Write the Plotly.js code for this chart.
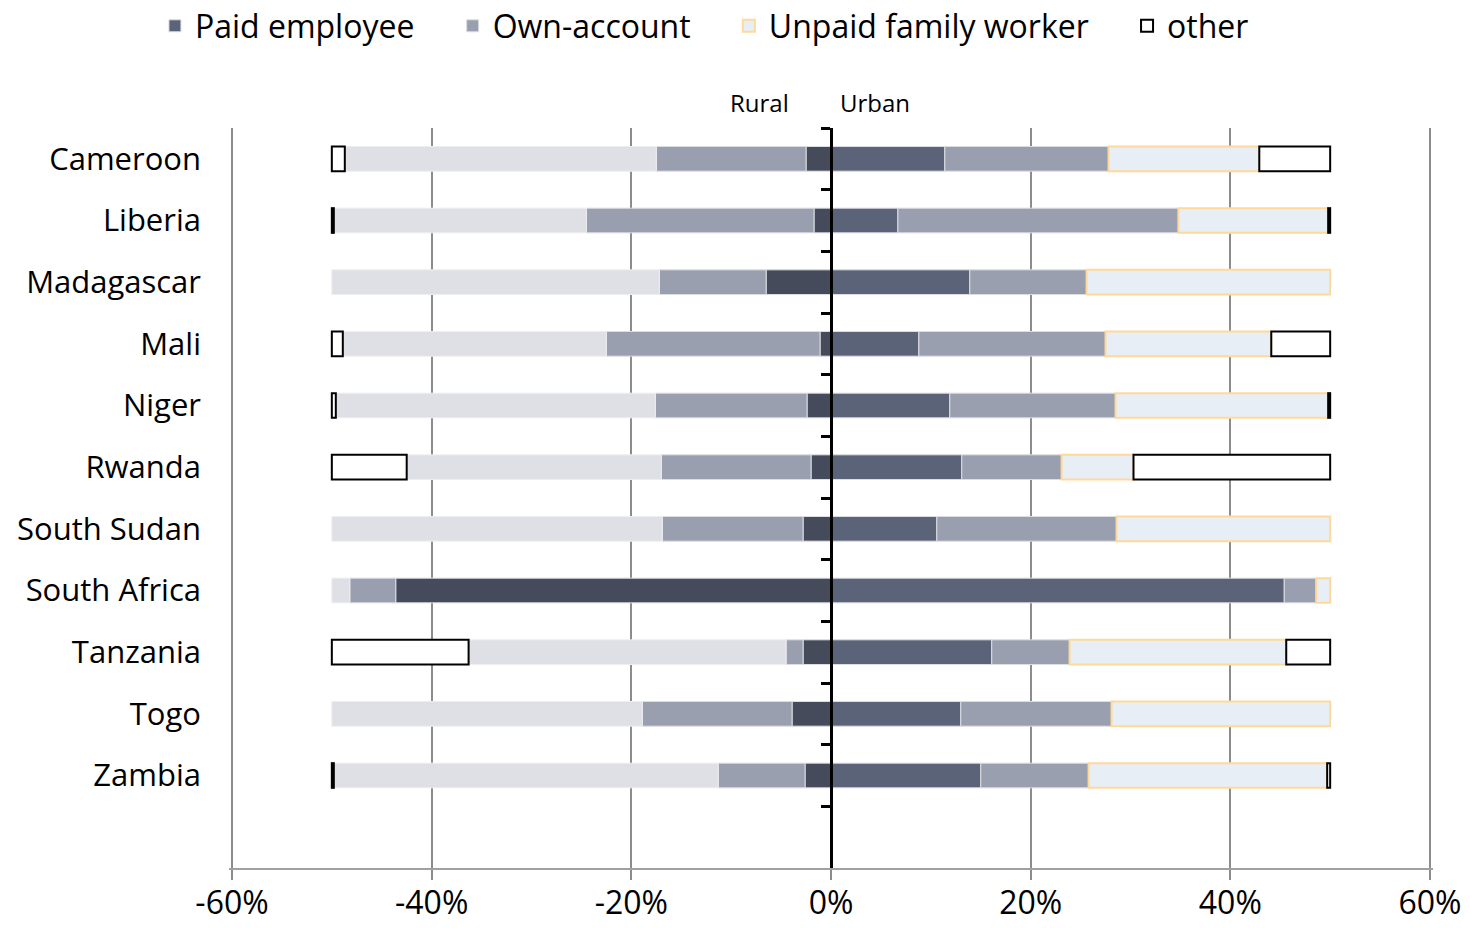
<!DOCTYPE html>
<html>
<head>
<meta charset="utf-8">
<script src="https://cdn.plot.ly/plotly-3.0.1.min.js"></script>
<style>html,body{margin:0;padding:0;background:#fff;}#chart{width:1470px;height:928px;}</style>
</head>
<body>
<div id="chart"></div>
<script>
// Categories (last slot is an empty category, as in the original)
var countries = ["Cameroon","Liberia","Madagascar","Mali","Niger","Rwanda","South Sudan","South Africa","Tanzania","Togo","Zambia"];
var categories = countries.concat([" "]);

// Rural shares (%), drawn to the left
var ruralPaid   = [2.5, 1.7, 6.5, 1.1, 2.4, 2.0, 2.8, 43.6, 2.8, 3.9, 2.6];
var ruralOwn    = [15.0, 22.8, 10.7, 21.4, 15.2, 15.0, 14.1, 4.6, 1.7, 15.0, 8.7];
var ruralUnpaid = [31.2, 25.3, 32.8, 26.4, 32.0, 25.5, 33.1, 1.8, 31.8, 31.1, 38.5];
var ruralOther  = [1.3, 0.2, 0, 1.1, 0.4, 7.5, 0, 0, 13.7, 0, 0.2];

// Urban shares (%), drawn to the right
var urbanPaid   = [11.4, 6.7, 13.9, 8.8, 11.9, 13.1, 10.6, 45.4, 16.1, 13.0, 15.0];
var urbanOwn    = [16.4, 28.1, 11.7, 18.7, 16.6, 10.0, 18.0, 3.2, 7.8, 15.1, 10.8];
var urbanUnpaid = [15.1, 15.0, 24.4, 16.6, 21.3, 7.2, 21.4, 1.4, 21.7, 21.9, 23.9];
var urbanOther  = [7.1, 0.2, 0, 5.9, 0.2, 19.7, 0, 0, 4.4, 0, 0.3];

var seriesNames = ["Paid employee", "Own-account", "Unpaid family worker", "other"];
var xTickVals = [-60, -40, -20, 0, 20, 40, 60];
var xTickText = ["-60%", "-40%", "-20%", "0%", "20%", "40%", "60%"];

var FONT = "'Open Sans', Lato, sans-serif";
var PAD = "\u00a0\u00a0\u00a0\u00a0";

function pos(arr){ return arr.map(function(v){ return v === 0 ? null : v; }); }
function neg(arr){ return arr.map(function(v){ return v === 0 ? null : -v; }); }

var styles = [
  {urban: {color:"#5b6378", line:{color:"#dcdde3", width:1}}, rural: {color:"#454b5a", line:{color:"#dcdde3", width:1}}},
  {urban: {color:"#9a9fb0", line:{color:"#dcdde3", width:1}}, rural: {color:"#9a9fb0", line:{color:"#dcdde3", width:1}}},
  {urban: {color:"#e8eef5", line:{color:"#ffd99a", width:2}}, rural: {color:"#dfe0e5", line:{color:"#eeeef1", width:1}}},
  {urban: {color:"#ffffff", line:{color:"#000000", width:2}}, rural: {color:"#ffffff", line:{color:"#000000", width:2}}}
];

var urbanSeries = [urbanPaid, urbanOwn, urbanUnpaid, urbanOther];
var ruralSeries = [ruralPaid, ruralOwn, ruralUnpaid, ruralOther];

var data = [];
urbanSeries.forEach(function(s, i){
  data.push({type:"bar", orientation:"h", name: seriesNames[i] + (i < 3 ? PAD : ""), legendgroup: seriesNames[i],
    y: countries, x: pos(s), marker: styles[i].urban, showlegend: true,
    hovertemplate: "%{y} Urban: %{x:.1f}%<extra>"+seriesNames[i]+"</extra>"});
});
ruralSeries.forEach(function(s, i){
  data.push({type:"bar", orientation:"h", name: seriesNames[i], legendgroup: seriesNames[i],
    y: countries, x: neg(s), marker: styles[i].rural, showlegend: false,
    hovertemplate: "%{y} Rural: %{customdata:.1f}%<extra>"+seriesNames[i]+"</extra>", customdata: s});
});
// invisible helper so the central category axis (with boundary ticks) is drawn
data.push({type:"scatter", mode:"markers", y: categories, x: categories.map(function(){return null;}),
  yaxis:"y2", showlegend:false, hoverinfo:"skip", marker:{opacity:0}});
// helper trace to draw the bottom axis line and ticks
data.push({type:"scatter", mode:"markers", x:[null], y:[null], xaxis:"x2", showlegend:false, hoverinfo:"skip"});

var layout = {
  width: 1470, height: 928,
  paper_bgcolor: "#ffffff", plot_bgcolor: "#ffffff",
  margin: {l:229, r:37, t:128, b:60},
  barmode: "relative",
  bargap: 0.6,
  font: {family: FONT, color: "#000000", size: 28},
  showlegend: true,
  legend: {orientation:"h", x: 0.1054, xref:"container", y: 0.972, yref:"container", yanchor:"middle", xanchor:"left",
    font:{family: FONT, size: 32, color:"#000"}, traceorder:"normal", itemclick:false, itemdoubleclick:false},
  xaxis: {range:[-60.3, 60.3], tickvals: xTickVals, ticktext: xTickText,
    showgrid: true, gridcolor:"#8c8c8c", gridwidth: 2,
    zeroline: false, showline: false,
    ticks:"", tickfont:{family: FONT, size: 32, color:"#000"}, ticklabelstandoff: 13, fixedrange:true},
  xaxis2: {range:[-60.3, 60.3], tickvals: xTickVals, overlaying:"x", anchor:"y", side:"bottom",
    showgrid:false, zeroline:false, showline:true, linecolor:"#a0a0a0", linewidth:2,
    ticks:"outside", ticklen:10, tickcolor:"#8c8c8c", tickwidth:2, showticklabels:false, fixedrange:true},
  yaxis: {type:"category", categoryarray: categories, categoryorder:"array",
    range:[11.5, -0.5], showgrid:false, zeroline:false, showline:false, ticks:"",
    ticklabelstandoff: 27,
    tickfont:{family: FONT, size: 31, color:"#000"}, fixedrange:true},
  yaxis2: {type:"category", categoryarray: categories, categoryorder:"array",
    overlaying:"y", anchor:"free", position: 0.5, side:"left",
    range:[11.5, -0.5], showgrid:false, zeroline:false,
    showline:true, linecolor:"#000", linewidth:3,
    ticks:"outside", tickson:"boundaries", ticklen:9, tickwidth:3, tickcolor:"#000",
    showticklabels:false, fixedrange:true},
  annotations: [
    {text:"Rural", x:0, xref:"x", xanchor:"right", xshift:-40, y:1, yref:"paper", yanchor:"bottom", yshift:7,
      showarrow:false, font:{family: FONT, size: 24, color:"#000"}},
    {text:"Urban", x:0, xref:"x", xanchor:"left", xshift:7, y:1, yref:"paper", yanchor:"bottom", yshift:7,
      showarrow:false, font:{family: FONT, size: 24, color:"#000"}}
  ]
};

Plotly.newPlot("chart", data, layout, {displayModeBar:false, staticPlot:false});
</script>
</body>
</html>
